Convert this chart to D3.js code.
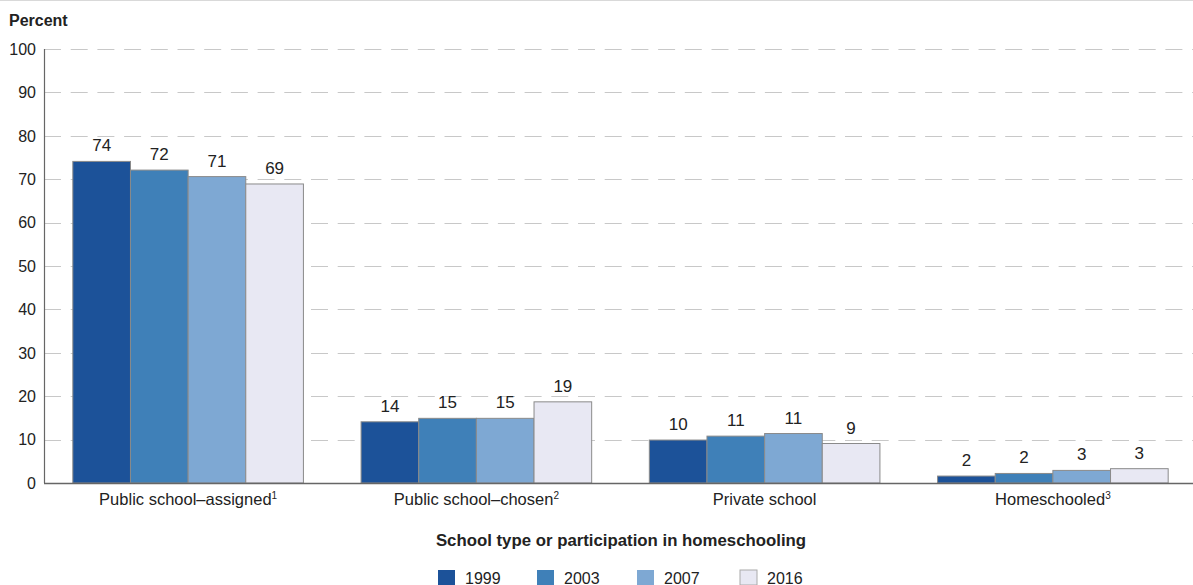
<!DOCTYPE html>
<html><head><meta charset="utf-8">
<script src="https://cdn.jsdelivr.net/npm/d3@7"></script>
<style>
body{margin:0;background:#fff;}
svg{display:block;font-family:Arial,"Liberation Sans",sans-serif;}
</style></head><body>
<svg id="chart" width="1193" height="585"></svg>
<script>
const categories = ["Public school–assigned", "Public school–chosen", "Private school", "Homeschooled"];
const footnotes = ["1", "2", "", "3"];
const years = ["1999", "2003", "2007", "2016"];
const values1999 = [74.1, 14.1, 9.9, 1.6];
const values2003 = [72.1, 14.9, 10.8, 2.2];
const values2007 = [70.6, 14.9, 11.4, 2.9];
const values2016 = [68.9, 18.7, 9.1, 3.3];
const yTicks = [0, 10, 20, 30, 40, 50, 60, 70, 80, 90, 100];
const colors = ["#1c5299", "#3f80b8", "#7ea8d3", "#e8e8f3"];

const series = [values1999, values2003, values2007, values2016];
const svg = d3.select("#chart");
const mLeft = 44, mRight = 1197, mTop = 49, mBottom = 483;

svg.append("line").attr("x1",0).attr("x2",1193).attr("y1",0.5).attr("y2",0.5)
  .attr("stroke","#d9d9d9").attr("stroke-width",1);

const y = d3.scaleLinear().domain([0,100]).range([mBottom, mTop]);
const x0 = d3.scaleBand().domain(categories).range([mLeft, mRight]).paddingInner(0.2).paddingOuter(0.1);
const x1 = d3.scaleBand().domain(years).range([0, x0.bandwidth()]);

// gridlines
svg.append("g").selectAll("line").data(yTicks.filter(d=>d>0)).join("line")
  .attr("x1", mLeft).attr("x2", 1193)
  .attr("y1", d=>Math.round(y(d))+0.5).attr("y2", d=>Math.round(y(d))+0.5)
  .attr("stroke","#c8c8c8").attr("stroke-width",1).attr("stroke-dasharray","17,9.7");

// y tick labels
svg.append("g").selectAll("text").data(yTicks).join("text")
  .attr("x", 36).attr("y", d=>y(d)).attr("dy","0.36em")
  .attr("text-anchor","end").attr("font-size",16).attr("fill","#222").text(d=>d);

svg.append("text").attr("x",9).attr("y",26).attr("font-size",16).attr("font-weight","bold")
  .attr("fill","#222").text("Percent");

// bars
const groups = svg.append("g").selectAll("g").data(categories).join("g")
  .attr("transform", c=>`translate(${x0(c)},0)`);
groups.each(function(c, ci){
  const g = d3.select(this);
  const data = years.map((yr, si)=>({yr, v: series[si][ci], si}));
  g.selectAll("rect").data(data).join("rect")
    .attr("x", d=>x1(d.yr)).attr("width", x1.bandwidth())
    .attr("y", d=>y(d.v)).attr("height", d=>mBottom - y(d.v))
    .attr("fill", d=>colors[d.si]).attr("stroke","#8a8a8a").attr("stroke-width",1);
  g.selectAll("text").data(data).join("text")
    .attr("x", d=>x1(d.yr)+x1.bandwidth()/2).attr("y", d=>y(d.v)-10)
    .attr("text-anchor","middle").attr("font-size",17).attr("fill","#222")
    .text(d=>d3.format(".0f")(d.v));
});

// axes lines
svg.append("line").attr("x1",mLeft+0.5).attr("x2",mLeft+0.5).attr("y1",mTop).attr("y2",mBottom)
  .attr("stroke","#666").attr("stroke-width",1.2);
svg.append("line").attr("x1",mLeft).attr("x2",1193).attr("y1",mBottom+0.5).attr("y2",mBottom+0.5)
  .attr("stroke","#666").attr("stroke-width",1.5);

// category labels
const cl = svg.append("g").selectAll("text").data(categories).join("text")
  .attr("x", c=>x0(c)+x0.bandwidth()/2).attr("y", 505)
  .attr("text-anchor","middle").attr("font-size",16.5).attr("fill","#222");
cl.append("tspan").text(c=>c);
cl.append("tspan").attr("font-size",10).attr("dy",-6).text((c,i)=>footnotes[i]);

svg.append("text").attr("x", 621).attr("y", 546).attr("text-anchor","middle")
  .attr("font-size",16.8).attr("font-weight","bold").attr("fill","#222")
  .text("School type or participation in homeschooling");

// legend
const legendX = [438, 537, 637, 740];
const lg = svg.append("g").selectAll("g").data(years).join("g")
  .attr("transform",(d,i)=>`translate(${legendX[i]},570)`);
lg.append("rect").attr("width",17).attr("height",15)
  .attr("fill",(d,i)=>colors[i]).attr("stroke",(d,i)=>i===3?"#aaa":"none");
lg.append("text").attr("x",27).attr("y",13.5).attr("font-size",16).attr("fill","#222").text(d=>d);
</script>
</body></html>
